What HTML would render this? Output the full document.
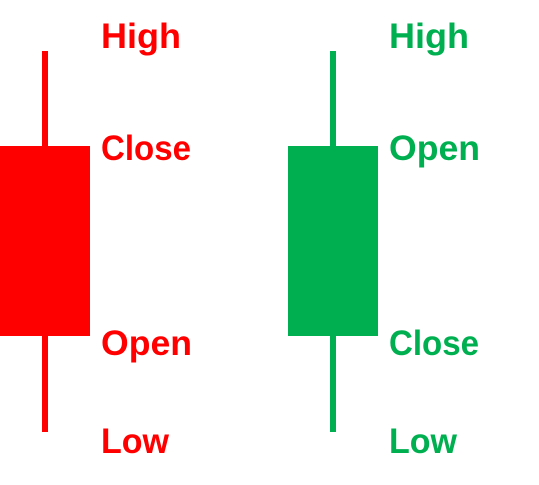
<!DOCTYPE html>
<html><head><meta charset="utf-8"><style>
html,body{margin:0;padding:0;background:#fff;width:539px;height:485px;overflow:hidden}
svg text{font-family:"Liberation Sans",sans-serif;font-weight:bold;font-size:35px}
</style></head><body>
<svg width="539" height="485">
<g>
<rect x="42" y="51" width="6" height="381" fill="#ff0000"/>
<rect x="0" y="146" width="90" height="190" fill="#ff0000"/>
<text x="101" y="48" fill="#ff0000" textLength="80" lengthAdjust="spacingAndGlyphs">High</text>
<text x="101" y="160" fill="#ff0000" textLength="90" lengthAdjust="spacingAndGlyphs">Close</text>
<text x="101" y="355" fill="#ff0000" textLength="91" lengthAdjust="spacingAndGlyphs">Open</text>
<text x="101" y="453" fill="#ff0000" textLength="68" lengthAdjust="spacingAndGlyphs">Low</text>
</g>
<g>
<rect x="330" y="51" width="6" height="381" fill="#00b050"/>
<rect x="288" y="146" width="90" height="190" fill="#00b050"/>
<text x="389" y="48" fill="#00b050" textLength="80" lengthAdjust="spacingAndGlyphs">High</text>
<text x="389" y="160" fill="#00b050" textLength="91" lengthAdjust="spacingAndGlyphs">Open</text>
<text x="389" y="355" fill="#00b050" textLength="90" lengthAdjust="spacingAndGlyphs">Close</text>
<text x="389" y="453" fill="#00b050" textLength="68" lengthAdjust="spacingAndGlyphs">Low</text>
</g>
</svg>
</body></html>
